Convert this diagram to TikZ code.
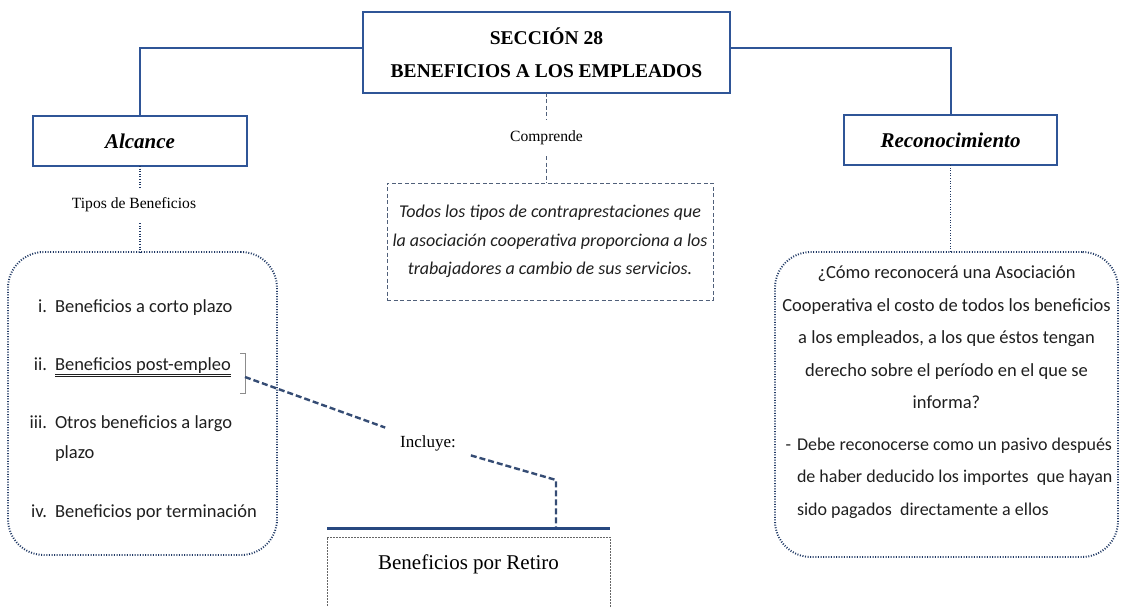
\documentclass[tikz,border=0pt]{standalone}
\usepackage{fontspec}
\setmainfont{Liberation Serif}
\newfontfamily\calibri{Carlito}
\usepackage{xcolor}
\usetikzlibrary{positioning}
\definecolor{boxblue}{RGB}{47,85,151}
\definecolor{navy}{RGB}{31,56,100}
\definecolor{slate}{RGB}{80,96,122}
\newcommand{\dline}[1]{\underline{\underline{#1}}}
\tikzset{every node/.style={inner sep=0pt, outer sep=0pt},
	mainbox/.style={draw=boxblue, line width=2.2pt, fill=white, font=\fontsize{21}{25}\selectfont\bfseries\itshape},
	link/.style={draw=boxblue, line width=2pt},
	dots/.style={draw=navy, line width=1.9pt, dash pattern=on 1pt off 1.6pt},
	thindash/.style={draw=slate, line width=0.9pt, dash pattern=on 4pt off 2.5pt},
	callout/.style={draw=navy!90, line width=2.4pt, dash pattern=on 6pt off 3pt},
	dotbox/.style={dots, rounded corners=36pt},
	label/.style={inner xsep=2pt, inner ysep=11pt, font=\fontsize{15.6}{18}\selectfont},
	body/.style={text=black!88, font=\calibri\fontsize{18.5}{32.5}\selectfont},
	item/.style={text=black!88, font=\calibri\fontsize{18.5}{30}\selectfont}}

\begin{document}
\begin{tikzpicture}[x=1pt, y=-1pt]
	\useasboundingbox (0,0) rectangle (1121,607);
	\node[mainbox, line width=2.6pt, minimum width=367pt, minimum height=81pt, align=center, font=\fontsize{19.5}{33}\selectfont\bfseries] (Seccion) at (546.5,52.5) {SECCIÓN 28\\BENEFICIOS A LOS EMPLEADOS};
	\node[mainbox, minimum width=214pt, minimum height=50pt] (Alcance) at (140,141) {Alcance};
	\node[mainbox, minimum width=213pt, minimum height=50pt] (Reconocimiento) at (950.5,140) {Reconocimiento};
	\node[label] (Tipos) at (134,205) {Tipos de Beneficios};
	\node[label] (Comprende) at (546.5,138) {Comprende};
	\node[label, inner xsep=15pt, font=\fontsize{17}{20}\selectfont] (Incluye) at (428,443) {Incluye:};
	
	\node[dotbox, minimum width=269pt, minimum height=303pt] (Tipos box) at (142.5,403.5) {};
	\node[thindash, minimum width=326pt, minimum height=117pt, align=center, text=black!88, font=\calibri\itshape\fontsize{18}{28.5}\selectfont] (Contra) at (550,241.5) {Todos los tipos de contraprestaciones que\\la asociación cooperativa proporciona a los\\trabajadores a cambio de sus servicios.};
	\node[dotbox, minimum width=343pt, minimum height=305pt] (Reco box) at (946.5,404.5) {};
	
	\node[item, anchor=base east] (N1) at (47,312) {i.};
	\node[item, base right=8pt of N1] (Item1) {Beneficios a corto plazo};
	\node[item, anchor=base east] (N2) at (47,370) {ii.};
	\node[item, base right=8pt of N2] (Item2) {\dline{Beneficios post-empleo}};
	\node[item, anchor=base east] (N3) at (47,428) {iii.};
	\node[item, base right=8pt of N3] (Item3) {Otros beneficios a largo};
	\node[item, anchor=base west] (Item3b) at ([yshift=-30pt]Item3.base west) {plazo};
	\node[item, anchor=base east] (N4) at (47,517) {iv.};
	\node[item, base right=8pt of N4] (Item4) {Beneficios por terminación};
	
	\node[body, align=center, anchor=north] (Pregunta) at (946.5,266) {¿Cómo reconocerá una Asociación\\Cooperativa el costo de todos los beneficios\\a los empleados, a los que éstos tengan\\derecho sobre el período en el que se\\informa?};
	\node[body, align=left, anchor=north west, font=\calibri\fontsize{18}{32.5}\selectfont] (Respuesta) at (797,437.5) {\llap{-\hspace{6pt}}Debe reconocerse como un pasivo después\\de haber deducido los importes\ \ que hayan\\sido pagados\ \ directamente a ellos};
	
	\node[draw=black!60, line width=0.8pt, dash pattern=on 2pt off 1pt, anchor=north, minimum width=283pt, inner ysep=18pt, text depth=60pt, font=\fontsize{21}{25}\selectfont] (Retiro) at (468.5,537) {Beneficios por Retiro};
	\coordinate (Retiro top) at ([yshift=9pt]Retiro.north);
	\coordinate (Bracket) at (245,377);
	\coordinate (Turn) at (556,480);
	
	\draw[link] ([yshift=4.5pt]Seccion.west) -| (Alcance);
	\draw[link] ([yshift=4.5pt]Seccion.east) -| (Reconocimiento);
	\draw[dots] (Alcance.south) -- (Alcance.south |- Tipos.north);
	\draw[dots] (Alcance.south |- Tipos.south) -- (Alcance.south |- Tipos box.north);
	\draw[dots] (Reconocimiento.south) -- (Reconocimiento.south |- Reco box.north);
	\draw[thindash] (Seccion.south) -- (Comprende);
	\draw[thindash] (Comprende.south) -- (Comprende.south |- Contra.north);
	\draw[black!45, line width=0.6pt] (240,353) -| (245,393) -- (240,393);
	\draw[callout] (Bracket) -- (Incluye);
	\draw[callout] (Incluye) -- (Turn) -- (Turn |- Retiro top);
	\draw[boxblue!85!black, line width=3pt] (Retiro top -| Retiro.west) -- (Retiro top -| Retiro.east);
\end{tikzpicture}
\end{document}
